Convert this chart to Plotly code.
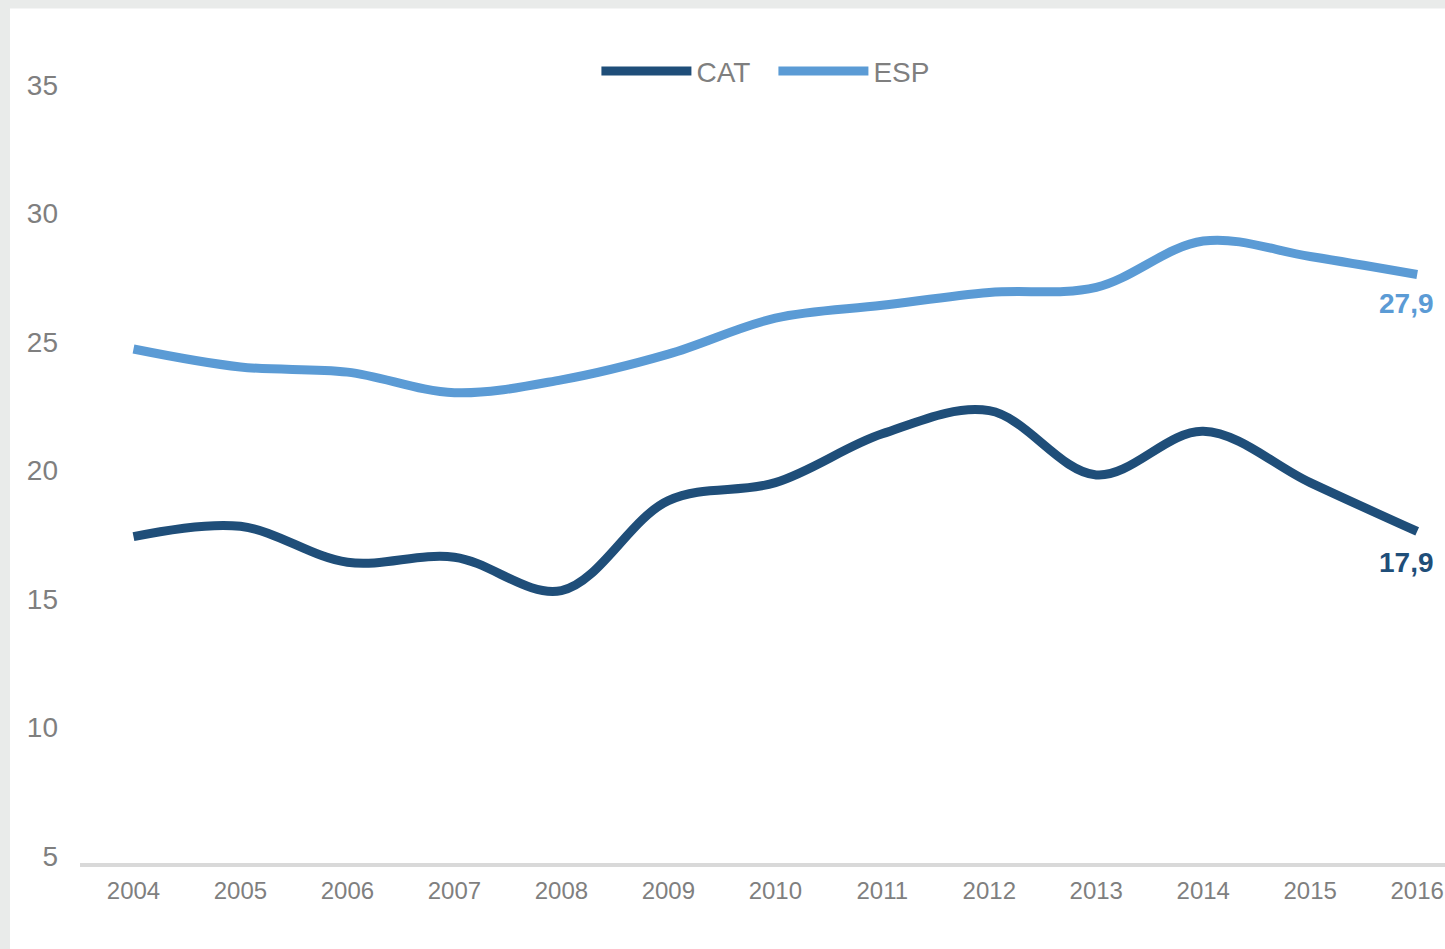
import plotly.graph_objects as go

years = [2004, 2005, 2006, 2007, 2008, 2009, 2010, 2011, 2012, 2013, 2014, 2015, 2016]
cat = [17.7, 18.1, 16.7, 16.9, 15.6, 19.1, 19.8, 21.7, 22.6, 20.1, 21.8, 19.8, 17.9]
esp = [25.0, 24.3, 24.1, 23.3, 23.8, 24.8, 26.2, 26.7, 27.2, 27.4, 29.2, 28.6, 27.9]
y_ticks = [5, 10, 15, 20, 25, 30, 35]

CAT_COLOR = "#1F4E79"
ESP_COLOR = "#5B9BD5"
GRAY = "#7f7f7f"

fig = go.Figure()
fig.add_trace(go.Scatter(x=years, y=cat, name="CAT", mode="lines",
                         line=dict(color=CAT_COLOR, width=9, shape="spline", smoothing=1.0)))
fig.add_trace(go.Scatter(x=years, y=esp, name="ESP", mode="lines",
                         line=dict(color=ESP_COLOR, width=9, shape="spline", smoothing=1.0)))

def fmt(v):
    return f"{v:.1f}".replace(".", ",")

fig.add_annotation(x=years[-1], y=esp[-1], text=fmt(esp[-1]), showarrow=False,
                   xanchor="center", yanchor="middle", xshift=-11, yshift=-29,
                   font=dict(family="Liberation Sans, Arial", size=28, color=ESP_COLOR, weight="bold"))
fig.add_annotation(x=years[-1], y=cat[-1], text=fmt(cat[-1]), showarrow=False,
                   xanchor="center", yanchor="middle", xshift=-11, yshift=-31,
                   font=dict(family="Liberation Sans, Arial", size=28, color=CAT_COLOR, weight="bold"))

# white card on light gray page
fig.add_shape(type="rect", xref="paper", yref="paper", x0=-0.0513, x1=1.05, y0=-0.2, y1=1.1083,
              fillcolor="white", line=dict(width=0), layer="below")

fig.update_layout(
    width=1445, height=949,
    margin=dict(l=80, r=0, t=92, b=86),
    paper_bgcolor="#e9ebea",
    plot_bgcolor="rgba(0,0,0,0)",
    showlegend=True,
    legend=dict(orientation="h", x=0.508, xanchor="center", y=1.027, yanchor="middle",
                font=dict(family="Liberation Sans, Arial", size=28, color=GRAY),
                bgcolor="rgba(0,0,0,0)", itemwidth=90, entrywidth=72),
    xaxis=dict(range=[2003.5, 2016.26], tickmode="array", tickvals=years,
               ticktext=[str(y) for y in years], showgrid=False, zeroline=False,
               showline=True, linecolor="#d9d9d9", linewidth=4, ticks="",
               ticklabelstandoff=3, ticklabeloverflow="allow",
               tickfont=dict(family="Liberation Sans, Arial", size=24, color=GRAY)),
    yaxis=dict(range=[5, 35], tickmode="array", tickvals=y_ticks, showgrid=False,
               zeroline=False, showline=False, ticks="", ticklabelstandoff=21,
               ticklabelshift=-7,
               tickfont=dict(family="Liberation Sans, Arial", size=28, color=GRAY)),
)

fig.write_html("out.html", config={"displayModeBar": False},
               post_script="document.body.style.margin='0';document.body.style.padding='0';document.documentElement.style.overflow='hidden';")
